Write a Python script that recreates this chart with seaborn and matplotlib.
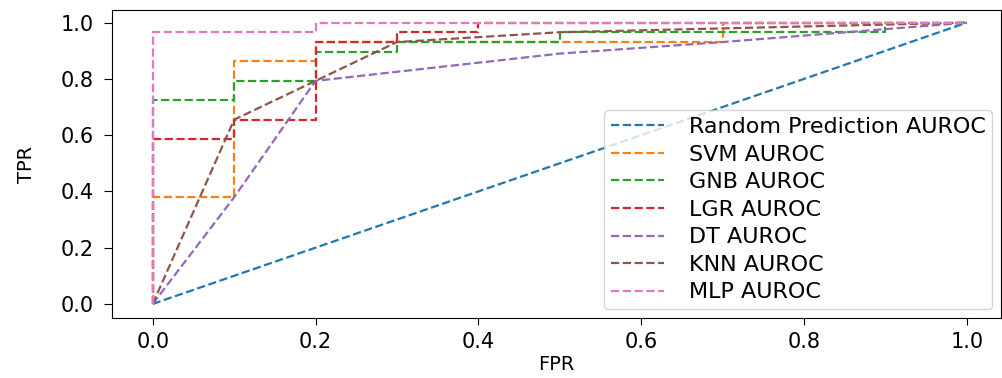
import matplotlib
matplotlib.use("Agg")
import matplotlib.pyplot as plt
import seaborn as sns

# ROC points (FPR, TPR)
random_fpr = [0.0, 1.0]
random_tpr = [0.0, 1.0]

svm_fpr = [0.0, 0.0, 0.1, 0.1, 0.2, 0.2, 0.7, 0.7, 1.0]
svm_tpr = [0.0, 0.379, 0.379, 0.862, 0.862, 0.931, 0.931, 1.0, 1.0]

gnb_fpr = [0.0, 0.0, 0.1, 0.1, 0.2, 0.2, 0.3, 0.3, 0.5, 0.5, 0.9, 0.9, 1.0]
gnb_tpr = [0.0, 0.724, 0.724, 0.793, 0.793, 0.897, 0.897, 0.931, 0.931, 0.966, 0.966, 1.0, 1.0]

lgr_fpr = [0.0, 0.0, 0.1, 0.1, 0.2, 0.2, 0.3, 0.3, 0.4, 0.4, 1.0]
lgr_tpr = [0.0, 0.586, 0.586, 0.655, 0.655, 0.931, 0.931, 0.966, 0.966, 1.0, 1.0]

dt_fpr = [0.0, 0.1, 0.2, 0.5, 0.7, 1.0]
dt_tpr = [0.0, 0.379, 0.793, 0.89, 0.931, 1.0]

knn_fpr = [0.0, 0.1, 0.2, 0.3, 0.5, 1.0]
knn_tpr = [0.0, 0.655, 0.793, 0.931, 0.966, 1.0]

mlp_fpr = [0.0, 0.0, 0.2, 0.2, 1.0]
mlp_tpr = [0.0, 0.966, 0.966, 1.0, 1.0]

curves = [
    ("Random Prediction AUROC", random_fpr, random_tpr),
    ("SVM AUROC", svm_fpr, svm_tpr),
    ("GNB AUROC", gnb_fpr, gnb_tpr),
    ("LGR AUROC", lgr_fpr, lgr_tpr),
    ("DT AUROC", dt_fpr, dt_tpr),
    ("KNN AUROC", knn_fpr, knn_tpr),
    ("MLP AUROC", mlp_fpr, mlp_tpr),
]

plt.rcParams['font.family'] = ['DejaVu Sans']
palette = sns.color_palette("tab10")

fig = plt.figure(figsize=(10.02, 3.78), dpi=100)
ax = fig.add_axes([112 / 1002, 60 / 378, 889 / 1002, 308 / 378])

for i, (label, fpr, tpr) in enumerate(curves):
    sns.lineplot(x=fpr, y=tpr, ax=ax, estimator=None, sort=False,
                 linestyle='--', color=palette[i], label=label, linewidth=1.6)

ax.set_xlim(-0.05, 1.042)
ax.set_ylim(-0.05, 1.045)
ax.set_xlabel('FPR', fontsize=14, labelpad=2)
ax.set_ylabel('TPR', fontsize=14, labelpad=18)
ax.tick_params(axis='x', labelsize=15, length=5, pad=5)
ax.tick_params(axis='y', labelsize=15, length=6, pad=7)

ax.legend(loc='lower right', fontsize=16, labelspacing=0.34,
          handlelength=2.4, handletextpad=1.1, borderpad=0.3,
          borderaxespad=0.4)

plt.savefig('out.png', dpi=100)
